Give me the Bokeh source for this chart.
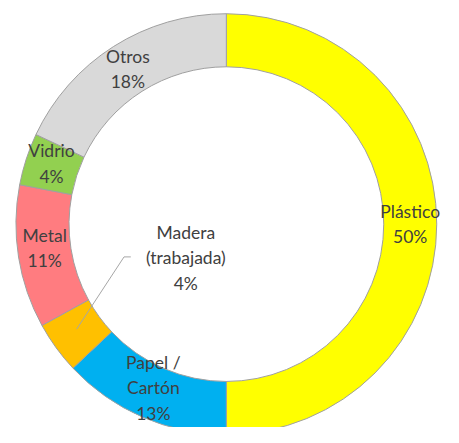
import numpy as np
from bokeh.plotting import figure
from bokeh.models import ColumnDataSource, Range1d
from bokeh.core.properties import value
from bokeh.embed import file_html
from bokeh.resources import INLINE

# Data (clockwise from 12 o'clock)
categories = ["Plástico", "Papel /\nCartón", "Madera\n(trabajada)", "Metal", "Vidrio", "Otros"]
percents = [50, 13, 4, 11, 4, 18]
colors = ["#FFFF00", "#00B0F0", "#FFC000", "#FF7C80", "#92D050", "#D9D9D9"]

R_OUT = 218
R_IN = 163
R_MID = (R_OUT + R_IN) / 2

frac = np.array(percents, dtype=float) / sum(percents)
cum_end = np.cumsum(frac)
cum_start = cum_end - frac
start_angle = np.pi / 2 - 2 * np.pi * cum_start
end_angle = np.pi / 2 - 2 * np.pi * cum_end
mid = (cum_start + cum_end) / 2
mid_angle = np.pi / 2 - 2 * np.pi * mid

labels = [f"{c}\n{p}%" for c, p in zip(categories, percents)]
lx = R_MID * np.cos(mid_angle)
ly = R_MID * np.sin(mid_angle)
# Madera label is moved inside the ring with a leader line
mi = 2
anchor_x, anchor_y = lx[mi] - 1, ly[mi] + 3
lx = lx.copy(); ly = ly.copy()
lx[mi] = -42
ly[mi] = -35
# small Excel-like nudges
ly[1] += 5
ly[3] += 5
ly[4] += 4

src = ColumnDataSource(dict(start=start_angle, end=end_angle, color=colors))
lab = ColumnDataSource(dict(x=lx, y=ly, text=labels))

p = figure(width=443, height=427, output_backend="svg", toolbar_location=None,
           x_range=Range1d(-234, 225), y_range=Range1d(-211, 232),
           min_border=0)
p.axis.visible = False
p.grid.visible = False
p.outline_line_color = None
p.background_fill_color = "white"

p.annular_wedge(x=0, y=0, inner_radius=R_IN, outer_radius=R_OUT,
                start_angle="start", end_angle="end", direction="clock",
                fill_color="color", line_color="#A0A0A0", line_width=1, source=src)

# leader line for Madera
p.line(x=[anchor_x, -106, -99], y=[anchor_y, -34, -34], line_color="#A6A6A6", line_width=1)

p.text(x="x", y="y", text="text", source=lab, text_align="center", text_baseline="middle",
       text_font=value("Lato"), text_font_size="17.5px", text_color="#404040",
       text_line_height=1.22)

open("out.html", "w").write(file_html(p, INLINE))
